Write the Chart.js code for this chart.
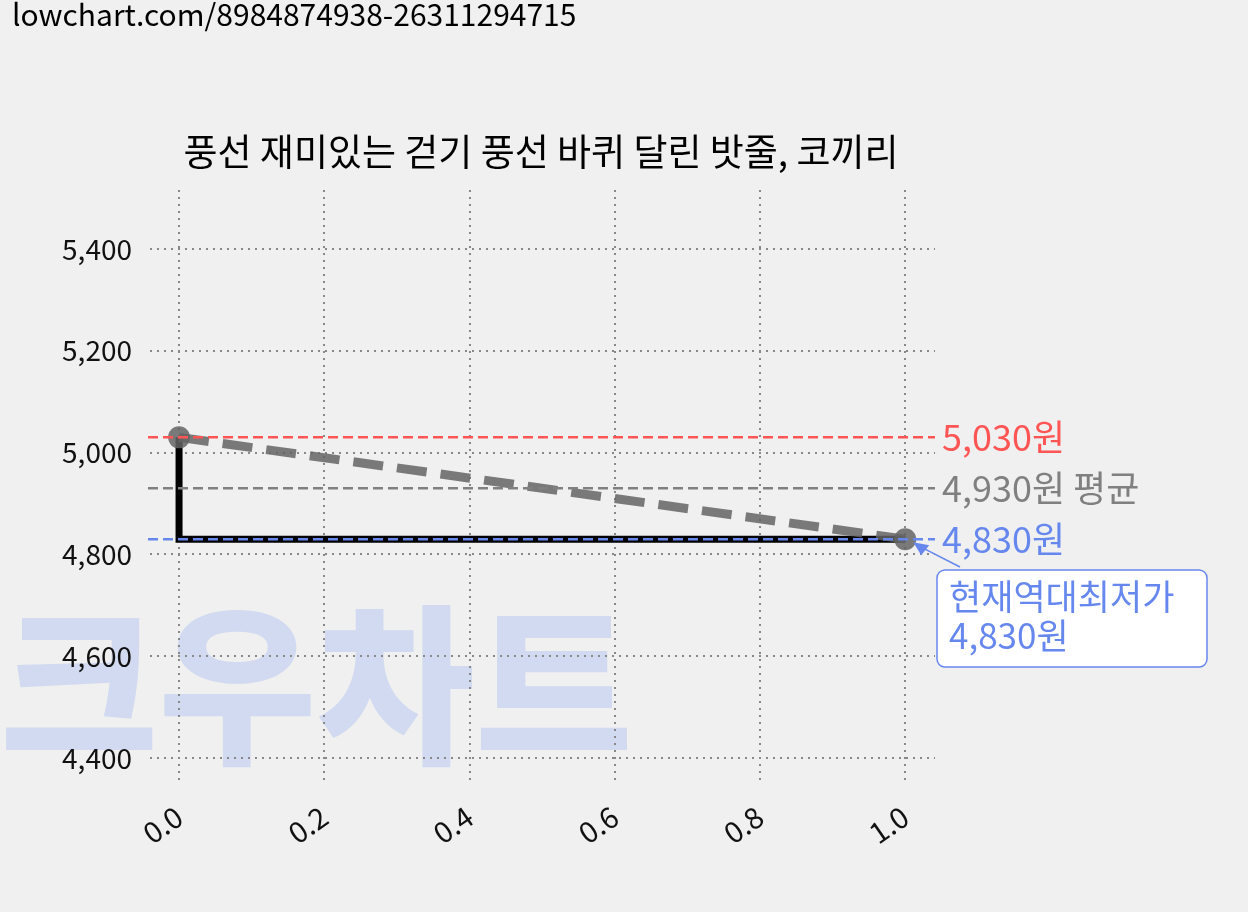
<!DOCTYPE html>
<html>
<head>
<meta charset="utf-8">
<script src="https://cdn.jsdelivr.net/npm/chart.js@4.4.0/dist/chart.umd.min.js"></script>
<style>
  html, body { margin: 0; padding: 0; background: #f0f0f0; }
  canvas { display: block; }
</style>
</head>
<body>
<canvas id="c" width="1248" height="912"></canvas>
<script>
// Data
const stepX = [0, 0, 1];
const stepY = [5030, 4830, 4830];
const trendX = [0, 1];
const trendY = [5030, 4830];
const maxPrice = 5030;
const avgPrice = 4930;
const minPrice = 4830;
const yTicks = [4400, 4600, 4800, 5000, 5200, 5400];
const xTicks = [0, 0.2, 0.4, 0.6, 0.8, 1.0];
const titleText = '풍선 재미있는 걷기 풍선 바퀴 달린 밧줄, 코끼리';
const urlText = 'lowchart.com/8984874938-26311294715';
const FONT = '"Noto Sans CJK KR", "Noto Sans", sans-serif';

const toPts = (xs, ys) => xs.map((x, i) => ({ x: x, y: ys[i] }));

// Background, watermark, url, title
const backdrop = {
  id: 'backdrop',
  beforeDraw(chart) {
    const ctx = chart.ctx;
    ctx.save();
    ctx.fillStyle = '#f0f0f0';
    ctx.fillRect(0, 0, chart.width, chart.height);
    ctx.font = '900 172px ' + FONT;
    ctx.fillStyle = 'rgba(170,190,240,0.45)';
    ctx.textBaseline = 'alphabetic';
    ctx.fillText('크우차트', 0, 750);
    ctx.fillStyle = '#000';
    ctx.font = '30px ' + FONT;
    ctx.textBaseline = 'top';
    ctx.fillText(urlText, 12, 0);
    ctx.font = '37px ' + FONT;
    ctx.textAlign = 'center';
    ctx.textBaseline = 'middle';
    ctx.fillText(titleText, 541, 152);
    ctx.restore();
  }
};

// Reference lines with labels, and the "lowest" note
const refLines = {
  id: 'refLines',
  afterDatasetsDraw(chart) {
    const ctx = chart.ctx;
    const y = chart.scales.y;
    const a = chart.chartArea;
    const lines = [
      { v: maxPrice, c: '#ff5555', t: '5,030원' },
      { v: avgPrice, c: '#808080', t: '4,930원 평균' },
      { v: minPrice, c: '#6688ee', t: '4,830원' }
    ];
    ctx.save();
    lines.forEach(l => {
      const py = y.getPixelForValue(l.v);
      ctx.strokeStyle = l.c;
      ctx.lineWidth = 2.5;
      ctx.setLineDash([10, 5]);
      ctx.beginPath();
      ctx.moveTo(148, py);
      ctx.lineTo(a.right, py);
      ctx.stroke();
      ctx.setLineDash([]);
      ctx.fillStyle = l.c;
      ctx.font = '36px ' + FONT;
      ctx.textBaseline = 'middle';
      ctx.fillText(l.t, 942, py);
    });
    // note box
    const px = chart.scales.x.getPixelForValue(1);
    const py = y.getPixelForValue(minPrice);
    ctx.strokeStyle = '#6688ee';
    ctx.fillStyle = '#6688ee';
    ctx.lineWidth = 1.5;
    ctx.beginPath();
    ctx.moveTo(960, 567);
    ctx.lineTo(px + 12, py + 6);
    ctx.stroke();
    ctx.beginPath();
    ctx.moveTo(px + 8, py + 3);
    ctx.lineTo(px + 24, py + 6);
    ctx.lineTo(px + 16, py + 16);
    ctx.closePath();
    ctx.fill();
    ctx.fillStyle = '#fff';
    ctx.beginPath();
    ctx.roundRect(937, 570, 270, 97, 8);
    ctx.fill();
    ctx.stroke();
    ctx.fillStyle = '#6688ee';
    ctx.font = '35px ' + FONT;
    ctx.textBaseline = 'middle';
    ctx.fillText('현재역대최저가', 949, 597);
    ctx.fillText('4,830원', 949, 636);
    ctx.restore();
  }
};

new Chart(document.getElementById('c'), {
  type: 'scatter',
  data: {
    datasets: [
      {
        data: toPts(trendX, trendY),
        showLine: true,
        borderColor: 'rgba(100,100,100,0.85)',
        borderWidth: 9,
        borderDash: [30, 14],
        pointRadius: 11,
        pointBackgroundColor: 'rgba(100,100,100,0.85)',
        pointBorderWidth: 0,
        order: 1
      },
      {
        data: toPts(stepX, stepY),
        showLine: true,
        borderColor: '#000',
        borderWidth: 7,
        pointRadius: 0,
        order: 2
      }
    ]
  },
  options: {
    responsive: false,
    animation: false,
    layout: { padding: { top: 190, right: 313, bottom: 0, left: 0 } },
    plugins: { legend: { display: false }, tooltip: { enabled: false } },
    scales: {
      x: {
        type: 'linear',
        min: -0.04, max: 1.041,
        border: { display: false, dash: [2, 5] },
        grid: { color: '#888', lineWidth: 2, drawTicks: false },
        afterBuildTicks(s) { s.ticks = xTicks.map(v => ({ value: v })); },
        ticks: {
          maxRotation: 35, minRotation: 35,
          color: '#111', font: { family: FONT, size: 29 }, padding: 14,
          callback: v => Number(v).toFixed(1)
        },
        afterFit(s) { s.height = 127; }
      },
      y: {
        min: 4347, max: 5516,
        border: { display: false, dash: [2, 5] },
        grid: { color: '#888', lineWidth: 2, drawTicks: false },
        afterBuildTicks(s) { s.ticks = yTicks.map(v => ({ value: v })); },
        ticks: {
          color: '#111', font: { family: FONT, size: 28 }, padding: 18,
          callback: v => Number(v).toLocaleString('en-US')
        },
        afterFit(s) { s.width = 150; }
      }
    }
  },
  plugins: [backdrop, refLines]
});
</script>
</body>
</html>
